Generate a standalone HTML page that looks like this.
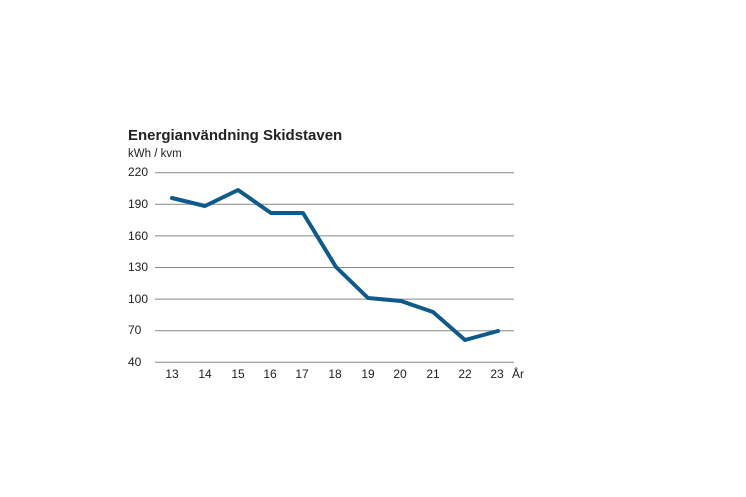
<!DOCTYPE html>
<html><head><meta charset="utf-8"><style>
html,body{margin:0;padding:0;background:#fff;}
svg{display:block;}
text{font-family:"Liberation Sans",sans-serif;fill:#222;}
</style></head><body>
<svg width="746" height="497" viewBox="0 0 746 497" xmlns="http://www.w3.org/2000/svg">
<text x="128" y="140" font-size="15" font-weight="bold" fill="#1a1a1a">Energianvändning Skidstaven</text>
<text x="128" y="157" font-size="11.5" fill="#444">kWh / kvm</text>
<g stroke="#888" stroke-width="1">
<line x1="155" y1="172.7" x2="514" y2="172.7"/>
<line x1="155" y1="204.3" x2="514" y2="204.3"/>
<line x1="155" y1="235.9" x2="514" y2="235.9"/>
<line x1="155" y1="267.5" x2="514" y2="267.5"/>
<line x1="155" y1="299.1" x2="514" y2="299.1"/>
<line x1="155" y1="330.7" x2="514" y2="330.7"/>
<line x1="155" y1="362.3" x2="514" y2="362.3"/>
</g>
<g font-size="12">
<text x="128" y="176">220</text>
<text x="128" y="208">190</text>
<text x="128" y="240">160</text>
<text x="128" y="271">130</text>
<text x="128" y="303">100</text>
<text x="128" y="334">70</text>
<text x="128" y="366">40</text>
</g>
<g font-size="12" text-anchor="middle">
<text x="172" y="378">13</text><text x="205" y="378">14</text><text x="238" y="378">15</text>
<text x="270" y="378">16</text><text x="302" y="378">17</text><text x="335" y="378">18</text>
<text x="368" y="378">19</text><text x="400" y="378">20</text><text x="433" y="378">21</text>
<text x="465" y="378">22</text><text x="497" y="378">23</text>
</g>
<text x="512" y="378" font-size="12">År</text>
<polyline fill="none" stroke="#0e5a8a" stroke-width="4" stroke-linejoin="round" stroke-linecap="round"
points="172,198 205,206 238,190 271,213 303,213 336,267 368,298 401,301 433,312 465,340 498,331"/>
</svg>
</body></html>
